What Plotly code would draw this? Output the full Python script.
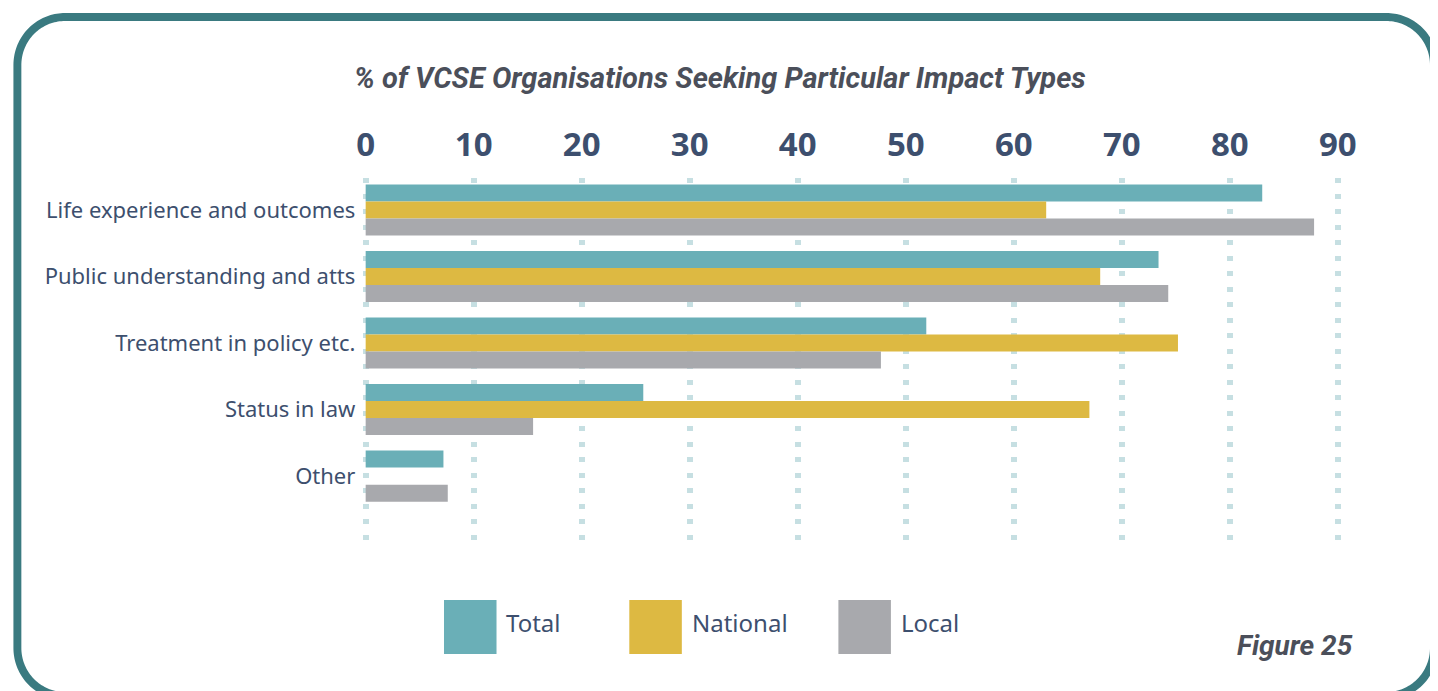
import numpy as np
import plotly.graph_objects as go

categories = ["Life experience and outcomes", "Public understanding and atts",
              "Treatment in policy etc.", "Status in law", "Other"]
total = [83.0, 73.4, 51.9, 25.7, 7.2]
national = [63.0, 68.0, 75.2, 67.0, None]
local = [87.8, 74.3, 47.7, 15.5, 7.6]
series_names = ["Total", "National", "Local"]
series_colors = ["#6aafb7", "#ddb942", "#a8a9ad"]
x_ticks = [0, 10, 20, 30, 40, 50, 60, 70, 80, 90]

W, H = 1438, 691
TEXT = "#3d4f6e"

def px(x):
    return x / W

def py(y):
    return 1 - y / H

fig = go.Figure()
ypos = list(range(len(categories)))
for name, vals, col in zip(series_names, [total, national, local], series_colors):
    fig.add_trace(go.Bar(x=vals, y=ypos, orientation="h", name=name,
                         marker=dict(color=col, line=dict(width=0)),
                         showlegend=False))

fig.update_layout(
    width=W, height=H,
    margin=dict(l=0, r=0, t=0, b=0),
    paper_bgcolor="white", plot_bgcolor="white",
    barmode="group", bargap=0.233, bargroupgap=0,
    xaxis=dict(domain=[px(359.6), px(1355.9)], range=[-0.4, 91], side="top",
               tickvals=x_ticks, ticktext=[str(t) for t in x_ticks],
               tickfont=dict(family="Open Sans", size=33, color=TEXT, weight="bold"),
               ticklabelstandoff=14,
               showgrid=True, gridcolor="#c6dfe2", gridwidth=5.5,
               griddash="5px,10.5px", zeroline=False, showline=False, ticks=""),
    yaxis=dict(domain=[py(548), py(178)], range=[5.08, -0.48],
               tickvals=ypos, ticktext=categories,
               tickfont=dict(family="Noto Sans", size=22, color=TEXT),
               showgrid=False, zeroline=False, showline=False, ticks="",
               ticklabelstandoff=5),
    font=dict(family="Noto Sans"),
)

# Title
fig.add_annotation(text="<b><i>% of VCSE Organisations Seeking Particular Impact Types</i></b>",
                   x=px(722), y=py(78), xref="paper", yref="paper",
                   xanchor="center", yanchor="middle", showarrow=False,
                   font=dict(family="Roboto", size=29, color="#4b4f5a"))

# Figure label
fig.add_annotation(text="<b><i>Figure 25</i></b>",
                   x=px(1362), y=py(645), xref="paper", yref="paper",
                   xanchor="right", yanchor="middle", showarrow=False,
                   font=dict(family="Roboto", size=28, color="#4b4f5a"))

# Custom legend
leg_x = [443, 630, 841]
for name, col, lx in zip(series_names, series_colors, leg_x):
    fig.add_shape(type="rect", xref="paper", yref="paper",
                  x0=px(lx), x1=px(lx + 53), y0=py(654), y1=py(600),
                  fillcolor=col, line=dict(width=0))
    fig.add_annotation(text=name, x=px(lx + 61), y=py(622), xref="paper", yref="paper",
                       xanchor="left", yanchor="middle", showarrow=False,
                       font=dict(family="Noto Sans", size=24, color=TEXT))


# Rounded frame drawn as a filled ring, clipped to the canvas
def rounded_rect(x0, y0, x1, y1, r, n=40):
    pts = []
    corners = [(x1 - r, y0 + r, -90, 0), (x1 - r, y1 - r, 0, 90),
               (x0 + r, y1 - r, 90, 180), (x0 + r, y0 + r, 180, 270)]
    for cx, cy, a0, a1 in corners:
        for a in np.linspace(np.radians(a0), np.radians(a1), n):
            pts.append((cx + r * np.cos(a), cy + r * np.sin(a)))
    return pts


def clip(poly, xmin, ymin, xmax, ymax):
    def clip_edge(pts, inside, inter):
        out = []
        for i in range(len(pts)):
            cur, prev = pts[i], pts[i - 1]
            if inside(cur):
                if not inside(prev):
                    out.append(inter(prev, cur))
                out.append(cur)
            elif inside(prev):
                out.append(inter(prev, cur))
        return out

    def ix(xc):
        return lambda p, q: (xc, p[1] + (q[1] - p[1]) * (xc - p[0]) / (q[0] - p[0]))

    def iy(yc):
        return lambda p, q: (p[0] + (q[0] - p[0]) * (yc - p[1]) / (q[1] - p[1]), yc)

    pts = poly
    pts = clip_edge(pts, lambda p: p[0] >= xmin, ix(xmin))
    pts = clip_edge(pts, lambda p: p[0] <= xmax, ix(xmax))
    pts = clip_edge(pts, lambda p: p[1] >= ymin, iy(ymin))
    pts = clip_edge(pts, lambda p: p[1] <= ymax, iy(ymax))
    return pts


fx0, fy0, fx1, fy1, fr, sw = 12.5, 17, 1442, 696, 48, 8
outer = clip(rounded_rect(fx0 - sw / 2, fy0 - sw / 2, fx1 + sw / 2, fy1 + sw / 2, fr + sw / 2),
             0, 0, W, H)
inner = clip(rounded_rect(fx0 + sw / 2, fy0 + sw / 2, fx1 - sw / 2, fy1 - sw / 2, fr - sw / 2),
             0, 0, W, H)[::-1]


def to_path(pts):
    return "M " + " L ".join(f"{px(x):.6f},{py(y):.6f}" for x, y in pts) + " Z"


fig.add_shape(type="path", path=to_path(outer) + " " + to_path(inner),
              xref="paper", yref="paper",
              line=dict(width=0), fillcolor="#3a7a80")

fig.write_html("out.html", config={"displayModeBar": False},
               post_script="document.body.style.margin='0';document.body.style.overflow='hidden';")
